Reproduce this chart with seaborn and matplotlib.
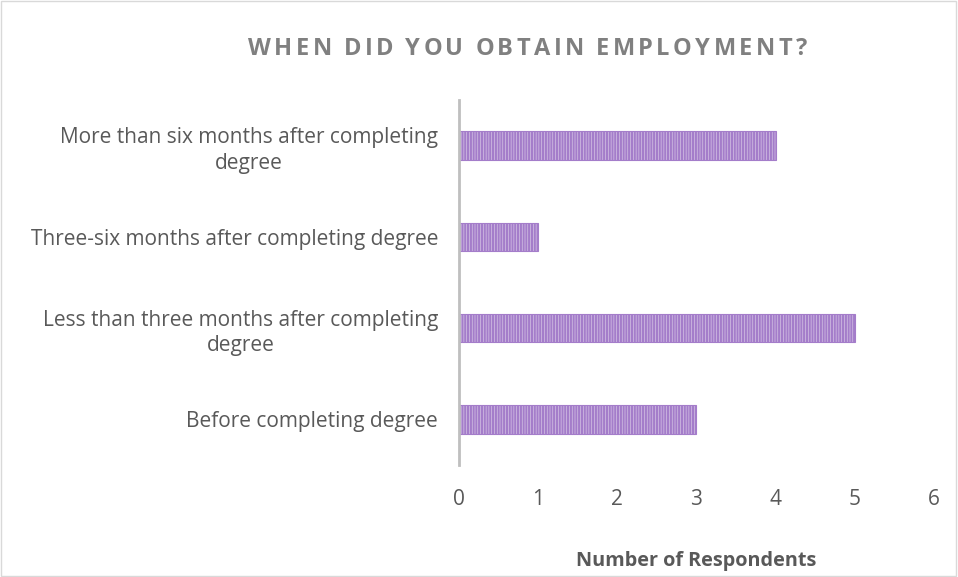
import seaborn as sns
import matplotlib.pyplot as plt
import pandas as pd

# data
categories = [
    "More than six months after completing\ndegree",
    "Three-six months after completing degree",
    "Less than three months after completing\ndegree",
    "Before completing degree",
]
respondents = [4, 1, 5, 3]
xticks = [0, 1, 2, 3, 4, 5, 6]
title = "WHEN DID YOU OBTAIN EMPLOYMENT?"

df = pd.DataFrame({"When": categories, "Respondents": respondents})

sns.set_style("white")
plt.rcParams["font.family"] = ["Open Sans", "DejaVu Sans"]
plt.rcParams["hatch.linewidth"] = 1.6

fig = plt.figure(figsize=(9.58, 5.77), dpi=100)
ax = fig.add_axes([0.479, 0.194, 0.496, 0.633])

sns.barplot(data=df, x="Respondents", y="When", orient="h", ax=ax,
            color="#e2d2f0", width=0.31, linewidth=0.8, edgecolor="#a47dca")
for bar in ax.patches:
    bar.set_hatch("||||||")

ax.set_xlim(0, 6)
ax.set_xticks(xticks)
ax.tick_params(axis="both", length=0, labelsize=15, labelcolor="#595959")
ax.tick_params(axis="y", pad=15)
ax.tick_params(axis="x", pad=17)
for lab in ax.get_yticklabels():
    lab.set_multialignment("center")
    lab.set_linespacing(1.3)

for s in ["top", "right", "bottom"]:
    ax.spines[s].set_visible(False)
ax.spines["left"].set_color("#bfbfbf")
ax.spines["left"].set_linewidth(2)

ax.set_ylabel("")
ax.set_xlabel("Number of Respondents", fontsize=14.3, fontweight="bold",
              color="#595959", labelpad=30)

# title with letter spacing, drawn one character at a time
renderer = fig.canvas.get_renderer()
tsize = 17
target_left, target_right, ty = 248, 807, 577 - 49
widths = []
for ch in title:
    t = fig.text(0, 0, ch, fontsize=tsize, fontweight="bold")
    widths.append(t.get_window_extent(renderer).width if ch != " " else 0)
    t.remove()
space_w = 5
track = (target_right - target_left - sum(widths) - space_w * title.count(" ")) / (len(title) - 1)
x = target_left
for ch, w in zip(title, widths):
    if ch == " ":
        x += space_w + track
        continue
    fig.text(x / 958, ty / 577, ch, ha="left", va="center", fontsize=tsize,
             fontweight="bold", color="#808080")
    x += w + track

# light frame around the chart area
fig.patches.append(plt.Rectangle((0.001, 0.002), 0.997, 0.996, transform=fig.transFigure,
                                 fill=False, edgecolor="#d9d9d9", linewidth=1))

plt.savefig("out.png")
plt.close()
